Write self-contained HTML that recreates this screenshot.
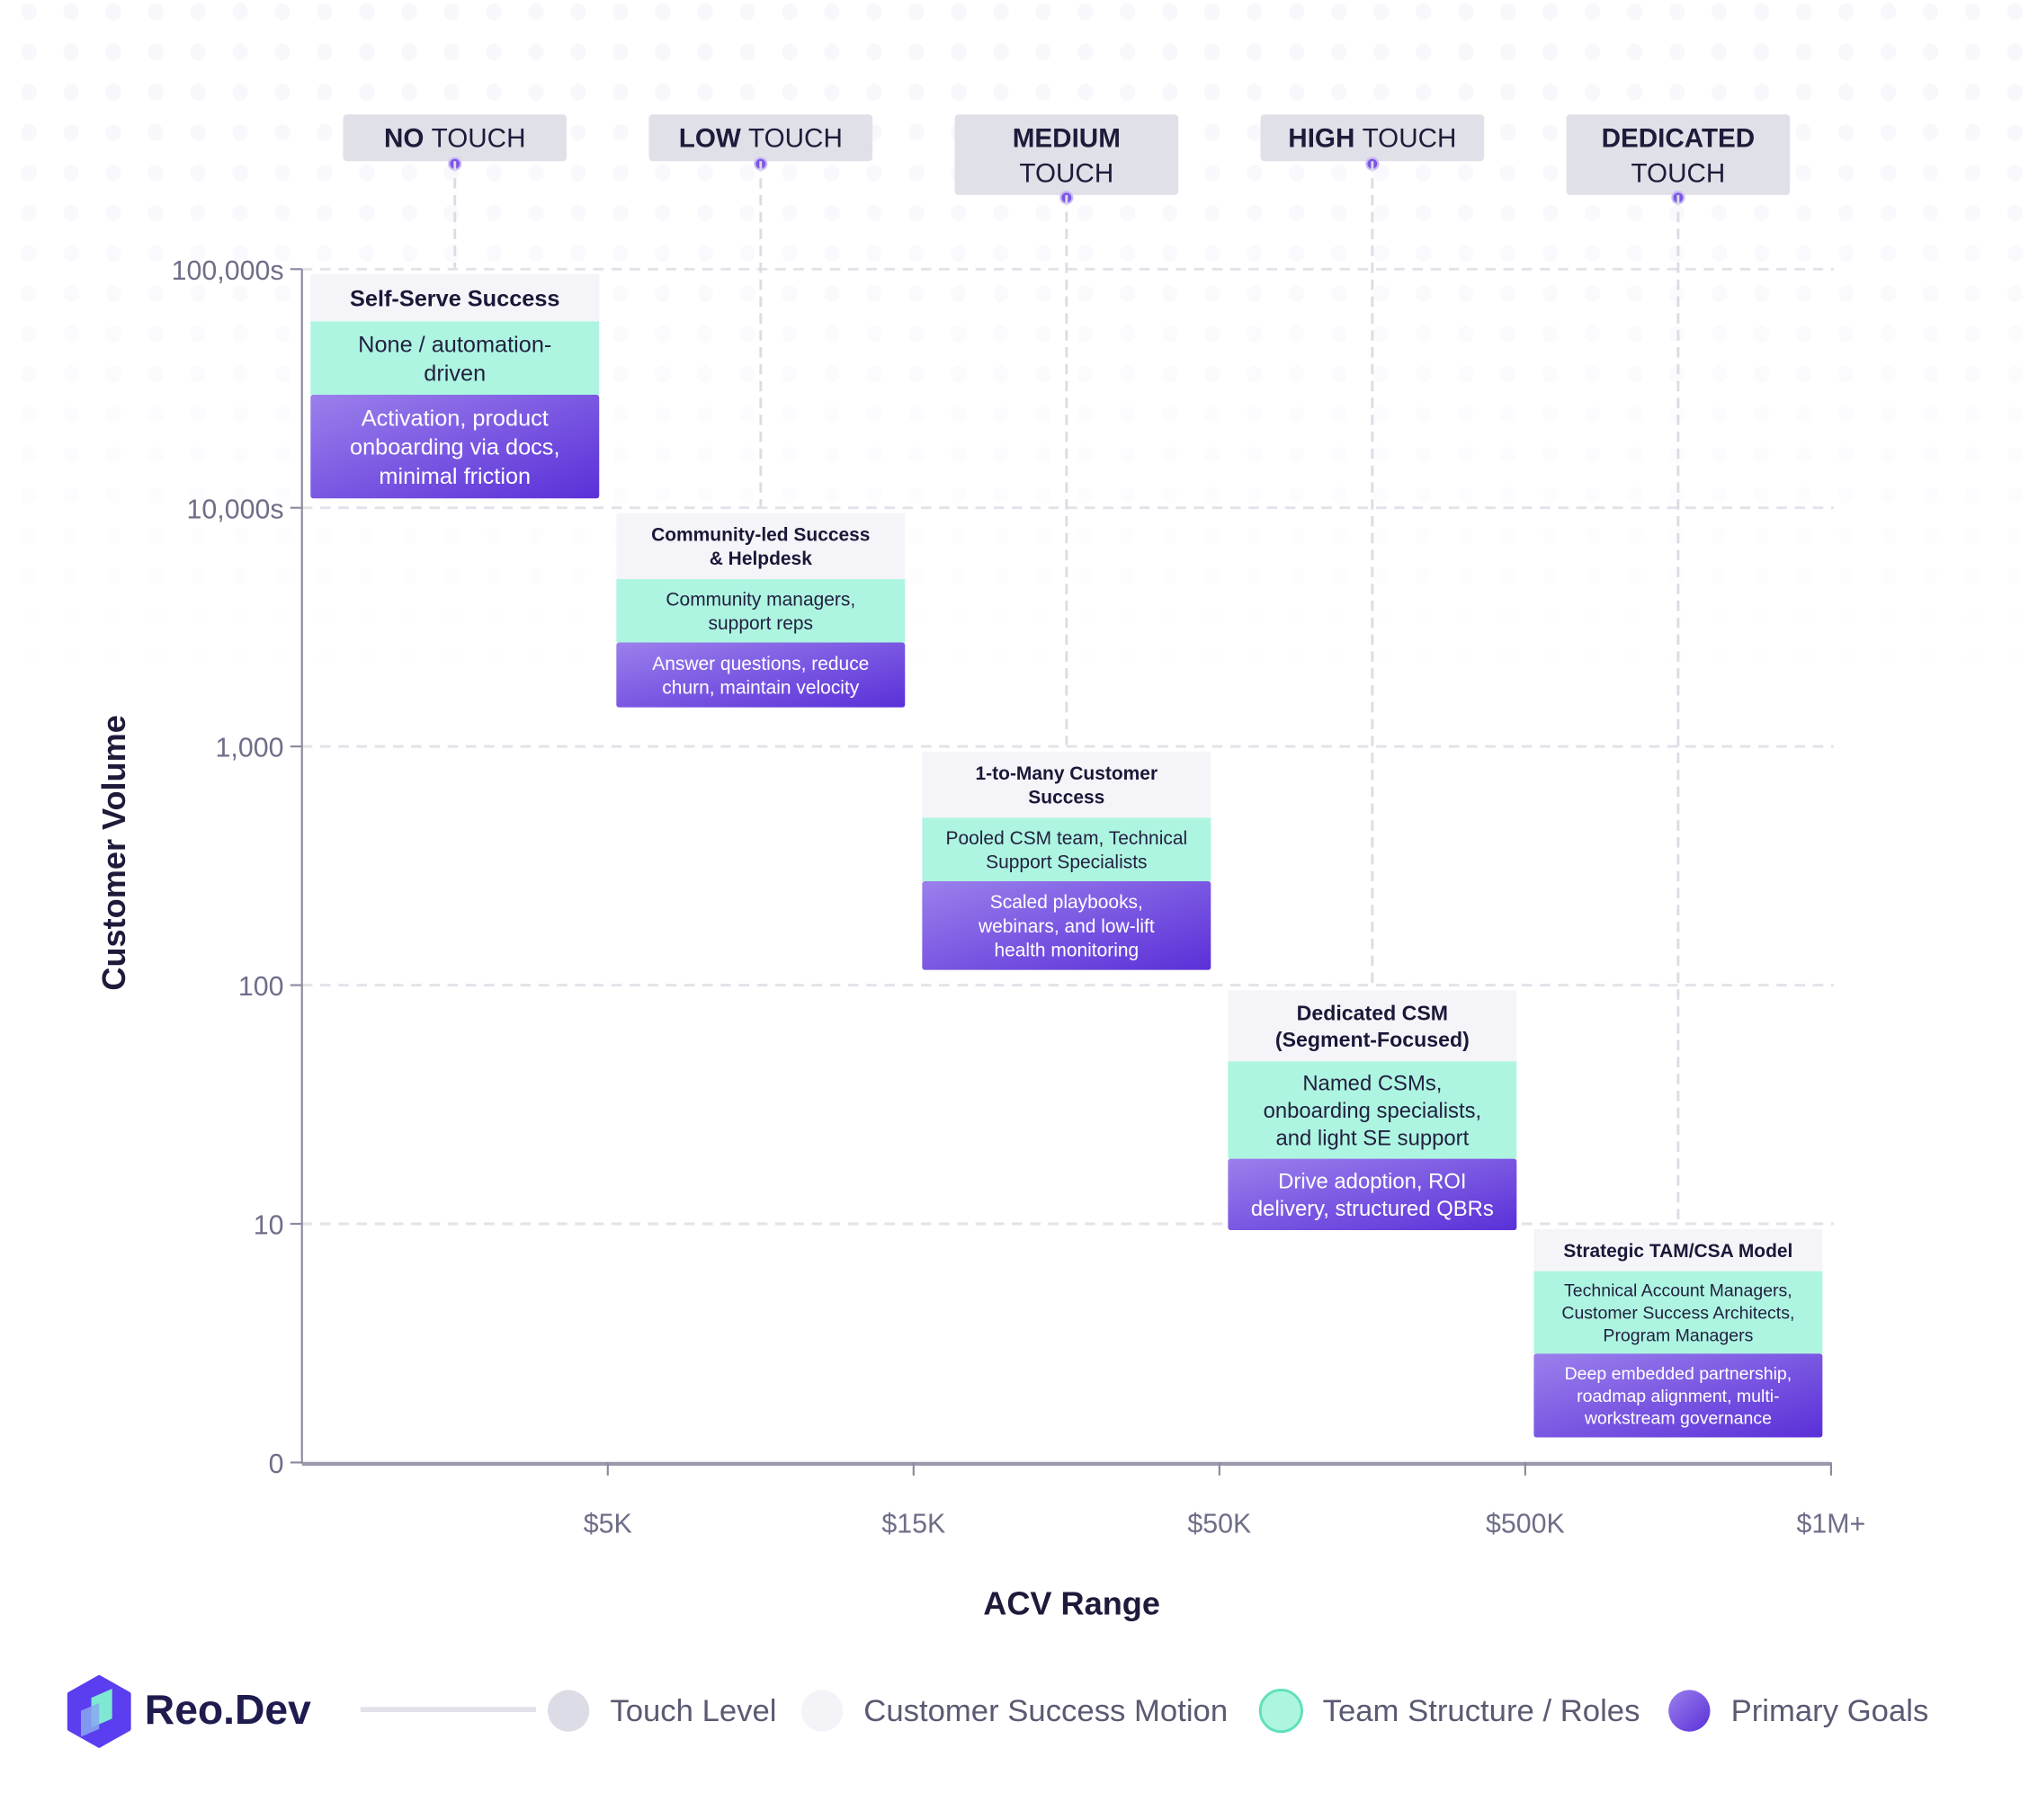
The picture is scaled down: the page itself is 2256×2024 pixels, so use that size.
<!DOCTYPE html>
<html><head><meta charset="utf-8">
<style>
html,body{margin:0;padding:0;background:#fff;}
svg{display:block;font-family:"Liberation Sans",sans-serif;}
</style></head>
<body>
<svg id="chart" width="2256" height="2024" viewBox="0 0 1560 1400" xmlns="http://www.w3.org/2000/svg">
<defs>
<linearGradient id="pg" x1="0" y1="0" x2="1" y2="1">
<stop offset="0" stop-color="#9b80ec"/><stop offset="1" stop-color="#5a30d8"/>
</linearGradient>
<linearGradient id="fade" x1="0" y1="0" x2="0" y2="1">
<stop offset="0" stop-color="#fff" stop-opacity="0"/><stop offset="1" stop-color="#fff" stop-opacity="1"/>
</linearGradient>
<pattern id="dots" x="0" y="0" width="32.5" height="31" patternUnits="userSpaceOnUse">
<ellipse cx="22" cy="9" rx="6" ry="6.5" fill="#f8f7fc"/>
</pattern>
</defs>
<g id="bg">
<rect x="0" y="0" width="1560" height="540" fill="url(#dots)"/>
<rect x="0" y="60" width="1560" height="490" fill="url(#fade)"/>
</g>
<g id="grid"></g>
<g id="axes"></g>
<g id="cards"></g>
<g id="touch"></g>
<g id="legend"></g>
</svg>
<script>
const categories = ["NO TOUCH","LOW TOUCH","MEDIUM TOUCH","HIGH TOUCH","DEDICATED TOUCH"];
const xTickLabels = ["$5K","$15K","$50K","$500K","$1M+"];
const yTickLabels = ["0","10","100","1,000","10,000s","100,000s"];
const volumeTop = [100000, 10000, 1000, 100, 10];
const motions = [["Self-Serve Success"],["Community-led Success","& Helpdesk"],["1-to-Many Customer","Success"],["Dedicated CSM","(Segment-Focused)"],["Strategic TAM/CSA Model"]];
const roles = [["None / automation-","driven"],["Community managers,","support reps"],["Pooled CSM team, Technical","Support Specialists"],["Named CSMs,","onboarding specialists,","and light SE support"],["Technical Account Managers,","Customer Success Architects,","Program Managers"]];
const goals = [["Activation, product","onboarding via docs,","minimal friction"],["Answer questions, reduce","churn, maintain velocity"],["Scaled playbooks,","webinars, and low-lift","health monitoring"],["Drive adoption, ROI","delivery, structured QBRs"],["Deep embedded partnership,","roadmap alignment, multi-","workstream governance"]];

const NS="http://www.w3.org/2000/svg";
const X0=232, X1=1408, Y0=1125, YT=207;
const fs=[17.5,14.5,14.5,16.5,13.5];
const hfs=[17.5,14.5,14.5,16,14.5];
function xBand(i){return X0+(X1-X0)/categories.length*i;}
function xCenter(i){return xBand(i)+(X1-X0)/categories.length/2;}
function yLog(v){ if(v<=0) return Y0; return Y0-(Y0-YT)*Math.log10(v)/5; }
function el(t,a,p){const e=document.createElementNS(NS,t);for(const k in a)e.setAttribute(k,a[k]);if(p)p.appendChild(e);return e;}
const grid=document.getElementById('grid'),axes=document.getElementById('axes'),cards=document.getElementById('cards'),touch=document.getElementById('touch'),legend=document.getElementById('legend');
const yTickVals=[0,10,100,1000,10000,100000];
yTickVals.forEach((v,i)=>{
  const y=yLog(v);
  if(v>0){const g=el('line',{x1:X0,x2:1410,y1:y,y2:y,stroke:'#e2e2ea','stroke-width':2,'stroke-dasharray':'8 6'},grid);
  
  }
  const tk=el('line',{x1:X0-9,x2:X0,y1:y,y2:y,stroke:'#8a8aa0','stroke-width':1.5},axes);
  
  
  const t=el('text',{x:X0-14,y:y+8,'text-anchor':'end','font-size':21,fill:'#6e6e88'},axes);t.textContent=yTickLabels[i];
  
  
});
let a=el('line',{x1:X0,x2:X0,y1:YT,y2:Y0+1,stroke:'#8a8aa0','stroke-width':1.5},axes);


a=el('line',{x1:X0,x2:X1,y1:Y0+1,y2:Y0+1,stroke:'#9a9aae','stroke-width':3},axes);


xTickLabels.forEach((l,i)=>{
  const x=xBand(i+1);
  const tk=el('line',{x1:x,x2:x,y1:Y0,y2:Y0+10,stroke:'#8a8aa0','stroke-width':1.5},axes);
  
  
  const t=el('text',{x:x,y:1179,'text-anchor':'middle','font-size':21,fill:'#6e6e88'},axes);t.textContent=l;
  
  
});
let t=el('text',{x:824,y:1242,'text-anchor':'middle','font-size':25,'font-weight':'bold',fill:'#1e1b3a'},axes);t.textContent='ACV Range';


t=el('text',{x:0,y:0,'text-anchor':'middle','font-size':25,'font-weight':'bold',fill:'#1e1b3a',transform:'translate(96,656) rotate(-90)'},axes);t.textContent='Customer Volume';



function lines(g,arr,cx,top,h,size,color,bold){
  const lh=size*1.27, start=top+h/2-(arr.length-1)*lh/2+size*0.36;
  arr.forEach((s,k)=>{const tt=el('text',{x:cx,y:start+k*lh,'text-anchor':'middle','font-size':size,fill:color,'font-weight':bold?'bold':'normal'},g);tt.textContent=s;
  
  });
}
categories.forEach((c,i)=>{
  const cx=xCenter(i), w=222, x=cx-w/2;
  const top=yLog(volumeTop[i])+4;
  const s=fs[i], lh=s*1.27;
  const hh=motions[i].length*hfs[i]*1.27+14;
  const rh=roles[i].length*lh+12;
  const gh=goals[i].length*lh+13;
  const g=el('g',{},cards);
  
  
  let r=el('rect',{x:x,y:top,width:w,height:hh,fill:'#f5f5f9'},g);
  
  
  lines(g,motions[i],cx,top,hh,hfs[i],'#1a1838',true);
  r=el('rect',{x:x,y:top+hh,width:w,height:rh,fill:'#adf5e1'},g);
  
  
  lines(g,roles[i],cx,top+hh,rh,s,'#232040',false);
  r=el('rect',{x:x,y:top+hh+rh,width:w,height:gh,fill:'url(#pg)',rx:2},g);
  
  
  lines(g,goals[i],cx,top+hh+rh,gh,s,'#ffffff',false);
  const two=c.split(' ');
  const isTwo=(c==="MEDIUM TOUCH"||c==="DEDICATED TOUCH");
  const bh=isTwo?62:36, by=88;
  const tg=el('g',{},touch);
  
  
  const ln=el('line',{x1:cx,x2:cx,y1:by+bh,y2:top-5,stroke:'#dcdce4','stroke-width':2,'stroke-dasharray':'8 5'},touch);
  
  
  r=el('rect',{x:cx-86,y:by,width:172,height:bh,rx:3,fill:'#e0e0e8'},tg);
  
  
  if(isTwo){
    let a1=el('text',{x:cx,y:by+25,'text-anchor':'middle','font-size':20.5,'font-weight':'bold',fill:'#1e1b3a'},tg);a1.textContent=two[0];
    
    
    let a2=el('text',{x:cx,y:by+52,'text-anchor':'middle','font-size':20.5,fill:'#1e1b3a'},tg);a2.textContent=two[1];
    
    
  } else {
    let a1=el('text',{x:cx,y:by+25,'text-anchor':'middle','font-size':20.5,fill:'#1e1b3a'},tg);
    const b=el('tspan',{'font-weight':'bold'},a1);b.textContent=two[0]+' ';
    const n=el('tspan',{},a1);n.textContent=two[1];
    
    
  }
  const d=el('circle',{cx:cx,cy:by+bh+2,r:4.5,fill:'#7b55e6',stroke:'#c9b8f5','stroke-width':1.5},tg);
  
  
});

const lg=el('g',{},legend);


el('polygon',{points:'76,1290 99,1303 99,1330 76,1343 53,1330 53,1303',fill:'#5b3ef0','stroke':'#5b3ef0','stroke-width':3,'stroke-linejoin':'round'},lg);
el('polygon',{points:'70,1306 86,1299 86,1322 70,1329',fill:'#7ee8d2'},lg);
el('polygon',{points:'62,1316 76,1310 76,1330 62,1336',fill:'#8aa8f0',opacity:0.85},lg);
t=el('text',{x:111,y:1326,'font-size':32,'font-weight':'bold',fill:'#1e1b4f'},legend);t.textContent='Reo.Dev';


a=el('line',{x1:277,x2:412,y1:1315,y2:1315,stroke:'#e2e2ea','stroke-width':4},legend);


const legLabels=["Touch Level","Customer Success Motion","Team Structure / Roles","Primary Goals"];
const legX=[437,632,985,1299];
const legFill=['#dcdce6','#f3f3f8','#aef5e0','url(#pg)'];
legLabels.forEach((l,i)=>{
  const c=el('circle',{cx:legX[i],cy:1316,r:16,fill:legFill[i],stroke:i===2?'#5fe0bb':'none','stroke-width':2},legend);
  
  
  const tt=el('text',{x:legX[i]+32,y:1324,'font-size':24,fill:'#5a5a72'},legend);tt.textContent=l;
  
  
});
</script>
</body></html>
